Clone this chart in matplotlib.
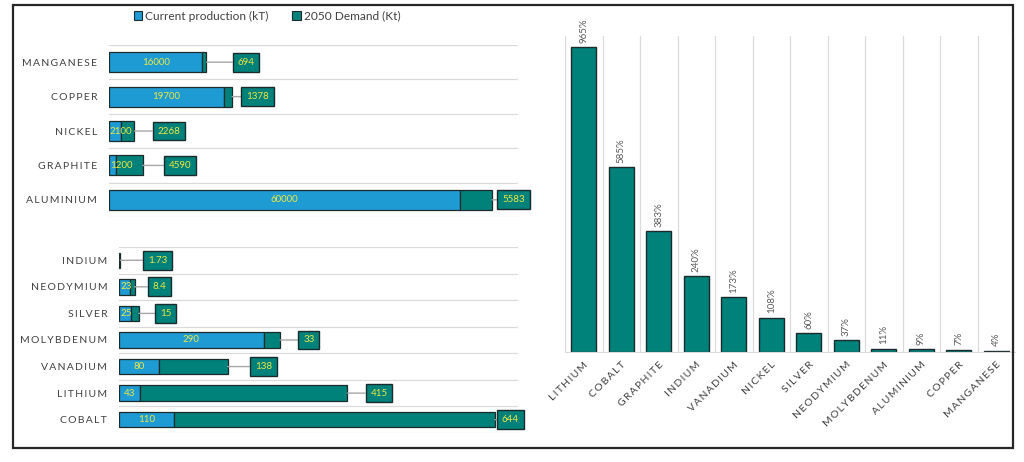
import numpy as np
import matplotlib
matplotlib.use("Agg")
import matplotlib.pyplot as plt
from matplotlib.patches import Patch, Rectangle

plt.rcParams['font.family'] = ['Lato', 'DejaVu Sans']

# Upper-left panel: large-volume metals (kT)
top_metals = ['MANGANESE', 'COPPER', 'NICKEL', 'GRAPHITE', 'ALUMINIUM']
top_current = [16000, 19700, 2100, 1200, 60000]
top_demand = [694, 1378, 2268, 4590, 5583]

# Lower-left panel: small-volume metals (kT)
bottom_metals = ['INDIUM', 'NEODYMIUM', 'SILVER', 'MOLYBDENUM', 'VANADIUM', 'LITHIUM', 'COBALT']
bottom_current = [0.72, 23, 25, 290, 80, 43, 110]
bottom_demand = [1.73, 8.4, 15, 33, 138, 415, 644]

# Right panel: 2050 demand as a share of current production
ratio_metals = ['LITHIUM', 'COBALT', 'GRAPHITE', 'INDIUM', 'VANADIUM', 'NICKEL',
                'SILVER', 'NEODYMIUM', 'MOLYBDENUM', 'ALUMINIUM', 'COPPER', 'MANGANESE']
ratio_pct = [965, 585, 383, 240, 173, 108, 60, 37, 11, 9, 7, 4]

# gap (px) between bar end and the demand label box, as placed in the original
top_gaps = [26, 9, 18, 21, 5]
bottom_gaps = [23, 13, 16, 18, 22, 18, 2]

BLUE = '#1E9BD2'
TEAL = '#00827B'
EDGE = '#1B2B2B'
YELLOW = '#EEE840'
GRID = '#DADADA'
TEXT = '#404040'


def spaced(s):
    return '\u2009'.join(s)


def draw_panel(ax, metals, current, demand, gaps, xmax, width_px):
    y = np.arange(len(metals))
    ax.barh(y, current, height=0.58, color=BLUE, edgecolor=EDGE, lw=0.9, zorder=2)
    ax.barh(y, demand, left=current, height=0.58, color=TEAL, edgecolor=EDGE, lw=0.9, zorder=2)
    per_px = xmax / width_px
    for i, (c, d, g) in enumerate(zip(current, demand, gaps)):
        if c >= 1:
            lbl = f'{c:g}'
            # keep narrow-segment labels from running past the axis start
            half = (len(lbl) * 5.0 / 2 + 2) * per_px
            ax.text(max(c / 2, half), i, lbl, ha='center', va='center', color=YELLOW,
                    fontsize=7, zorder=3, clip_on=False)
        ax.annotate(f'{d:g}', xy=(c + d, i), xytext=((g + 5) * 0.72, 0),
                    textcoords='offset points', ha='left', va='center',
                    fontsize=7, color=YELLOW, zorder=4, annotation_clip=False,
                    bbox=dict(boxstyle='square,pad=0.5', fc=TEAL, ec=EDGE, lw=1),
                    arrowprops=dict(arrowstyle='-', color='#A6A6A6', lw=1,
                                    shrinkA=0, shrinkB=0))
    n = len(metals)
    ax.set_xlim(0, xmax)
    ax.set_ylim(n - 0.5, -0.5)
    ax.set_yticks(y, [spaced(m) for m in metals], fontsize=7.5, color=TEXT)
    ax.set_yticks(np.arange(n + 1) - 0.5, minor=True)
    ax.grid(axis='y', which='minor', color=GRID, lw=0.9)
    ax.set_axisbelow(True)
    ax.set_xticks([])
    ax.tick_params(which='both', length=0)
    ax.tick_params(axis='y', which='major', pad=8.5)
    for sp in ax.spines.values():
        sp.set_visible(False)


fig = plt.figure(figsize=(10.24, 4.62), dpi=100)
ax_top = fig.add_axes([0.1064, 0.5303, 0.3994, 0.3723])
ax_bot = fig.add_axes([0.1162, 0.0628, 0.3896, 0.4026])
ax_r = fig.add_axes([0.5518, 0.2381, 0.4395, 0.684])

draw_panel(ax_top, top_metals, top_current, top_demand, top_gaps, 70000, 409)
draw_panel(ax_bot, bottom_metals, bottom_current, bottom_demand, bottom_gaps, 800, 399)

# right panel
x = np.arange(len(ratio_metals))
ax_r.bar(x, ratio_pct, width=0.67, color=TEAL, edgecolor=EDGE, lw=1, zorder=2)
for i, v in enumerate(ratio_pct):
    ax_r.text(i, v + 14, f'{v}%', rotation=90, ha='center', va='bottom',
              fontsize=7, color='#595959')
ax_r.set_xlim(-0.5, len(ratio_metals) - 0.5)
ax_r.set_ylim(0, 1000)
ax_r.set_xticks(x, [spaced(m) for m in ratio_metals], rotation=45, ha='right',
                rotation_mode='anchor', fontsize=7.5, color=TEXT)
ax_r.set_xticks(np.arange(len(ratio_metals) + 1) - 0.5, minor=True)
ax_r.grid(axis='x', which='minor', color=GRID, lw=0.9)
ax_r.set_axisbelow(True)
ax_r.set_yticks([])
ax_r.tick_params(which='both', length=0)
ax_r.tick_params(axis='x', which='major', pad=6)
for name, sp in ax_r.spines.items():
    if name == 'bottom':
        sp.set_color(GRID)
    else:
        sp.set_visible(False)

# legend
handles = [Patch(fc=BLUE, ec=EDGE, lw=0.8), Patch(fc=TEAL, ec=EDGE, lw=0.8)]
fig.legend(handles, ['Current production (kT)', '2050 Demand (Kt)'], loc='center',
           bbox_to_anchor=(267 / 1024, 1 - 16 / 462), ncol=2, frameon=False,
           fontsize=8.6, handlelength=0.7, handleheight=0.7, handletextpad=0.25,
           columnspacing=2.0, labelcolor=TEXT)

# outer frame
fig.add_artist(Rectangle((13 / 1024, 1 - 448 / 462), 1000 / 1024, 443 / 462,
                         transform=fig.transFigure, fill=False, ec='#262626', lw=1.6))

fig.savefig('out.png', dpi=100)
